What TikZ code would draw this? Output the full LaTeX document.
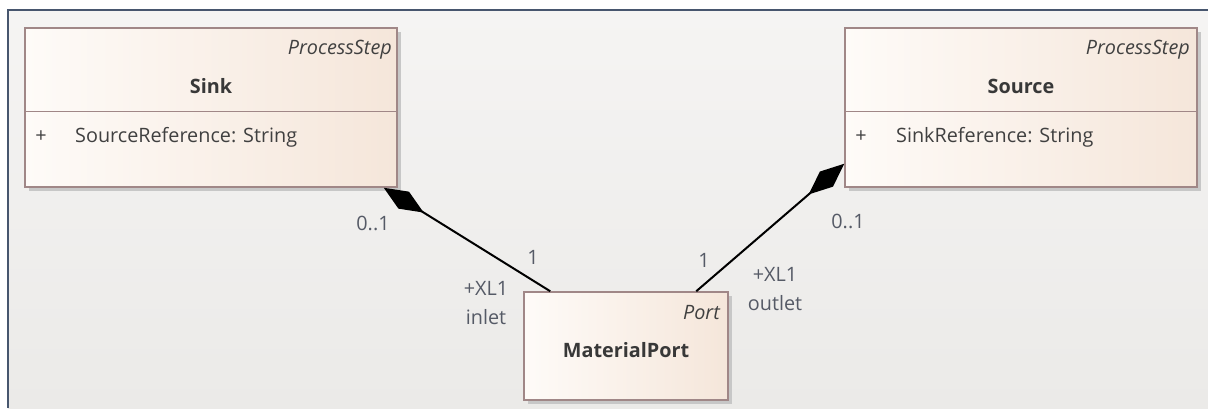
\documentclass[tikz,border=0pt]{standalone}
\usepackage{fontspec}
\setmainfont{Open Sans}
\usetikzlibrary{arrows.meta,shadows}
\definecolor{framegrey}{RGB}{71,86,110}
\definecolor{boxleft}{RGB}{254,251,248}
\definecolor{boxright}{RGB}{245,230,218}
\definecolor{boxline}{RGB}{160,135,135}
\definecolor{textgrey}{RGB}{56,56,56}
\definecolor{attrgrey}{RGB}{64,64,64}
\definecolor{labelgrey}{RGB}{85,90,102}
\definecolor{bgtop}{RGB}{245,244,243}
\definecolor{bgbottom}{RGB}{235,234,232}

\tikzset{
  classbox/.style={draw=boxline, line width=1.5pt, left color=boxleft, right color=boxright,
    inner sep=0pt, drop shadow={shadow xshift=4pt, shadow yshift=-4pt, fill=black!22, opacity=1}},
  umltext/.style={font=\fontsize{19.8}{29}\selectfont, text=attrgrey, inner sep=0pt},
  stereo/.style={umltext, font=\fontsize{19.8}{29}\selectfont\itshape},
  classname/.style={umltext, font=\fontsize{19.8}{29}\selectfont\bfseries, text=textgrey},
  rolelabel/.style={umltext, text=labelgrey, align=center},
  compo/.style={{Diamond[length=47pt,width=20pt]}-, line width=2pt, black}
}

\begin{document}
\begin{tikzpicture}[x=1pt,y=-1pt]
    \fill[white] (0,0) rectangle (1208,408);
    \useasboundingbox (0,0) rectangle (1208,408);
    \fill[top color=bgtop,bottom color=bgbottom] (8,10) rectangle (1208,408);
    \draw[framegrey,line width=2.5pt] (8,408) -- (8,10) -- (1208,10);

    % classes
    \node[classbox, minimum width=372pt, minimum height=159pt] (sink) at (211,107.5) {};
    \node[classbox, minimum width=352pt, minimum height=159pt] (source) at (1021,107.5) {};
    \node[classbox, minimum width=204pt, minimum height=108pt] (port) at (626,346) {};
    \draw[boxline,line width=1.5pt] ([yshift=-84pt]sink.north west) -- ([yshift=-84pt]sink.north east);
    \draw[boxline,line width=1.5pt] ([yshift=-84pt]source.north west) -- ([yshift=-84pt]source.north east);

    \node[stereo, anchor=east] (sinkStereo) at (392,50) {ProcessStep};
    \node[classname] (sinkName) at (211,86) {Sink};
    \node[umltext] (sinkVis) at (41,137) {+};
    \node[umltext, anchor=west] (sinkAttr) at (75,137) {SourceReference: String};

    \node[stereo, anchor=east] (sourceStereo) at (1190,50) {ProcessStep};
    \node[classname] (sourceName) at (1021,86) {Source};
    \node[umltext] (sourceVis) at (861,137) {+};
    \node[umltext, anchor=west] (sourceAttr) at (896,137) {SinkReference: String};

    \node[stereo, anchor=east] (portStereo) at (720,313) {Port};
    \node[classname] (portName) at (626,350) {MaterialPort};

    % compositions
    \draw[compo] ([xshift=-14pt]sink.south east) -- ([xshift=27pt]port.north west);
    \draw[compo] ([yshift=24pt]source.south west) -- ([xshift=173pt]port.north west);

    \node[rolelabel] (inMultSink) at (373,223) {0..1};
    \node[rolelabel] (inMultPort) at (533,257) {1};
    \node[rolelabel] (inRole) at (486,303) {+XL1\\inlet};
    \node[rolelabel] (outMultPort) at (704,260) {1};
    \node[rolelabel] (outRole) at (775,289) {+XL1\\outlet};
    \node[rolelabel] (outMultSource) at (848,221) {0..1};
\end{tikzpicture}
\end{document}
